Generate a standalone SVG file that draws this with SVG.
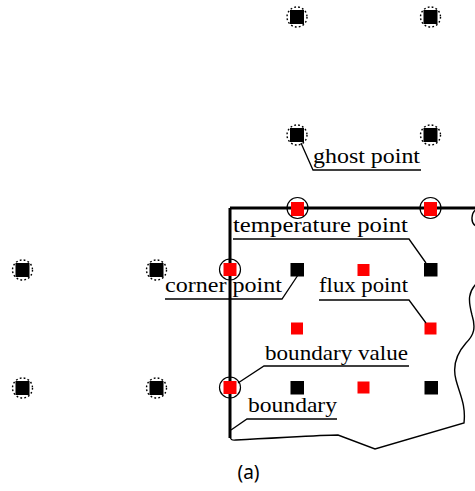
<svg xmlns="http://www.w3.org/2000/svg" width="475" height="491" viewBox="0 0 475 491">
<defs>
<style>
.blk{fill:#000}
.red{fill:#ff0000}
.ghost{fill:none;stroke:#000;stroke-width:1.4;stroke-dasharray:1.8 2.2}
.ring{fill:none;stroke:#000;stroke-width:1.2}
.thick{fill:none;stroke:#000;stroke-width:3}
.thin{fill:none;stroke:#000;stroke-width:1.4}
.lead{fill:none;stroke:#000;stroke-width:1.3}
.lbl{font-family:"Liberation Serif","Times New Roman",serif;font-size:22px;fill:#000}
.cap{font-family:"Noto Sans","DejaVu Sans",sans-serif;font-size:19px;fill:#000}
</style>
</defs>
<rect width="475" height="491" fill="#fff"/>

<g id="domain">
<path class="thick" d="M230,208 H476 M230,208 V438"/>
<path class="thin" d="M230,436 Q230,441 236,440 C280,438 320,435 338,435 L375,449 L464,423 C466,405 460,395 456,380 C452,365 458,352 466,343 C474,335 476,328 472,315 C468,300 468,292 477,283"/>
<path class="thin" d="M477,209 C471,212 470,223 476,226"/>
</g>

<g id="ghost-points">
<g id="g1"><rect class="blk" x="290" y="10" width="14" height="14"/><circle class="ghost" cx="297" cy="17" r="10"/></g>
<g id="g2"><rect class="blk" x="423.5" y="10" width="14" height="14"/><circle class="ghost" cx="430.5" cy="17" r="10"/></g>
<g id="g3"><rect class="blk" x="290" y="128" width="14" height="14"/><circle class="ghost" cx="297" cy="135" r="10"/></g>
<g id="g4"><rect class="blk" x="423.5" y="128" width="14" height="14"/><circle class="ghost" cx="430.5" cy="135" r="10"/></g>
<g id="g5"><rect class="blk" x="15.5" y="263" width="14" height="14"/><circle class="ghost" cx="22.5" cy="270" r="10"/></g>
<g id="g6"><rect class="blk" x="149.5" y="263" width="14" height="14"/><circle class="ghost" cx="156.5" cy="270" r="10"/></g>
<g id="g7"><rect class="blk" x="15.5" y="381" width="14" height="14"/><circle class="ghost" cx="22.5" cy="388" r="10"/></g>
<g id="g8"><rect class="blk" x="149.5" y="381" width="14" height="14"/><circle class="ghost" cx="156.5" cy="388" r="10"/></g>
</g>

<g id="boundary-points">
<g id="b1"><rect class="red" x="291" y="202" width="13" height="14"/><circle class="ring" cx="297.5" cy="208" r="10.5"/></g>
<g id="b2"><rect class="red" x="424" y="202" width="13" height="14"/><circle class="ring" cx="430.5" cy="208" r="10.5"/></g>
<g id="b3"><rect class="red" x="223.5" y="263" width="13" height="13"/><circle class="ring" cx="230" cy="269.5" r="10.5"/></g>
<g id="b4"><rect class="red" x="223.5" y="381" width="13" height="13"/><circle class="ring" cx="230" cy="387.5" r="10.5"/></g>
</g>

<g id="interior-points">
<rect id="t1" class="blk" x="290.5" y="263" width="13.5" height="13.5"/>
<rect id="t2" class="blk" x="424" y="263" width="13.5" height="13.5"/>
<rect id="t3" class="blk" x="290.5" y="381" width="13.5" height="13.5"/>
<rect id="t4" class="blk" x="424.5" y="381" width="13.5" height="13.5"/>
<rect id="f1" class="red" x="357.5" y="264" width="12" height="12"/>
<rect id="f2" class="red" x="291" y="322.5" width="12" height="12"/>
<rect id="f3" class="red" x="424.5" y="322.5" width="12" height="12"/>
<rect id="f4" class="red" x="357.5" y="381.5" width="12" height="12"/>
</g>

<g id="connectors">
<path class="lead" d="M301,143 L313,170 H421"/>
<path class="lead" d="M233,239 H409 L426,263"/>
<path class="lead" d="M165,299 H282 L300,272"/>
<path class="lead" d="M319,300 H409 L426,323"/>
<path class="lead" d="M238,383 L264,366 H409"/>
<path class="lead" d="M231,430 L247,419 H337"/>
</g>

<g id="labels">
<text class="lbl" x="313" y="163" textLength="107" lengthAdjust="spacingAndGlyphs">ghost point</text>
<text class="lbl" x="233" y="232" textLength="175" lengthAdjust="spacingAndGlyphs">temperature point</text>
<text class="lbl" x="165" y="292" textLength="117" lengthAdjust="spacingAndGlyphs">corner point</text>
<text class="lbl" x="319" y="292" textLength="89" lengthAdjust="spacingAndGlyphs">flux point</text>
<text class="lbl" x="265" y="360" textLength="143" lengthAdjust="spacingAndGlyphs">boundary value</text>
<text class="lbl" x="248" y="412" textLength="89" lengthAdjust="spacingAndGlyphs">boundary</text>
<text class="cap" x="248.5" y="479" text-anchor="middle">(a)</text>
</g>
</svg>
